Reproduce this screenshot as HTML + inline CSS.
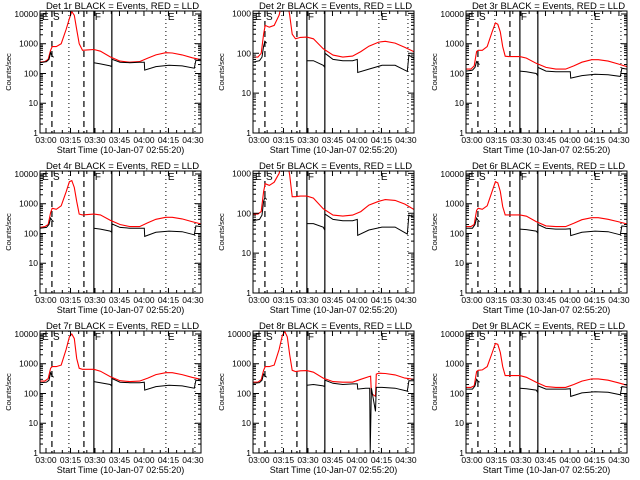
<!DOCTYPE html>
<html><head><meta charset="utf-8"><style>
html,body{margin:0;padding:0;background:#fff;}
svg{display:block;font-family:"Liberation Sans",sans-serif;}
</style></head><body>
<svg id="chart" width="640" height="480" viewBox="0 0 640 480" xmlns="http://www.w3.org/2000/svg"></svg>
<script>
const redT = [1,4,6,7.5,8.5,11,14,17,19,20.5,22,23.5,25,27,30,34,38,44,50,56,62,67,72,78,82,88,94,99.5];
const blackT = [1,5,6.5,7.5,8.3,9.3,34,38,44,44.9,45.1,50,56,62,64.9,65.1,72,80,88,95.5,96.5,99.5];
const red8T = [1,4,6,7.5,8.5,11,14,17,19,20.5,22,23.5,25,27,30,34,38,44,50,56,62,67,72,73,73.5,76,76.5,78,82,88,94,99.5];
const black8T = [1,5,6.5,7.5,8.3,9.3,34,38,44,44.9,45.1,50,56,62,64.9,65.1,70,72.5,72.8,73.5,76,76.5,80,88,95.5,96.5,99.5];
const blackBreak = 6;
const xTickLabels = ["03:00","03:15","03:30","03:45","04:00","04:15","04:30"];
const xTickTimes = [4.67,19.67,34.67,49.67,64.67,79.67,94.67];
const dashedTimes = [8.3,27.9];
const dottedTimes = [18.7,78.1,95.9];
const solidTimes = [34,45];
const panelNames = ["1r","2r","3r","4r","5r","6r","7r","8r","9r"];
const yMaxLog = [4.1,3.06,4.1,4.1,3.06,4.1,4.1,4.1,4.1];
const red1 = [240,250,300,600,800,800,1000,3000,7000,12000,9000,3000,1000,600,620,640,560,360,260,240,250,330,420,500,490,420,340,290];
const black1 = [230,250,300,500,400,350,230,210,180,170,300,240,230,240,240,130,170,190,180,150,280,270];
const red2 = [80,80,100,300,500,450,500,900,2000,3000,2000,900,300,230,250,255,230,130,90,80,85,110,150,190,200,180,140,110];
const black2 = [60,65,80,150,200,180,65,65,50,45,100,70,65,65,70,33,40,50,50,35,90,75];
const red3 = [140,140,180,550,600,600,800,2500,5000,4500,2500,800,380,370,370,370,330,220,160,140,140,180,240,290,290,260,210,170];
const black3 = [120,130,160,250,220,200,120,115,100,85,160,120,115,115,115,70,85,95,90,80,150,140];
const red4 = [160,170,200,500,700,650,850,2500,5500,6000,3500,1200,450,420,430,450,420,280,200,170,170,230,300,350,350,310,250,210];
const black4 = [150,160,200,330,280,250,150,140,120,110,210,160,150,150,150,80,110,120,115,90,180,170];
const red5 = [95,95,110,350,550,500,600,1000,2000,3000,2000,900,260,260,270,270,240,130,90,85,90,110,160,200,220,210,170,125];
const black5 = [65,70,90,200,250,220,55,55,45,38,95,70,65,65,70,28,38,45,45,30,90,80];
const red6 = [170,170,200,600,700,650,850,2600,5500,5000,2600,800,420,420,420,420,380,250,180,170,170,220,290,340,340,300,250,210];
const black6 = [150,150,200,330,280,250,140,135,120,105,200,150,140,140,145,85,110,120,115,90,180,170];
const red7 = [260,260,320,700,800,800,900,3000,8000,10000,7000,1500,700,650,650,650,560,370,270,250,260,330,430,500,500,430,350,300];
const black7 = [230,240,280,500,400,350,250,230,200,180,320,240,230,230,240,130,170,190,180,150,280,270];
const red8 = [240,240,290,600,800,800,900,3000,9000,12000,8000,2000,600,550,580,590,520,330,250,240,240,300,370,380,100,80,450,480,470,420,330,300];
const black8 = [220,230,280,450,400,350,190,200,180,170,280,220,200,210,210,140,150,150,1,150,25,160,160,150,120,270,270];
const red9 = [160,160,180,550,600,620,800,2300,4800,4500,2400,800,400,400,400,400,350,240,170,160,160,200,260,310,310,280,230,190];
const black9 = [140,140,180,300,260,240,150,145,130,110,180,140,140,140,145,80,105,115,110,90,170,160];

const reds = [red1,red2,red3,red4,red5,red6,red7,red8,red9];
const blacks = [black1,black2,black3,black4,black5,black6,black7,black8,black9];

const NS = "http://www.w3.org/2000/svg";
const svg = document.getElementById("chart");
const L = 40, R = 201, T = 11, B = 133, TMIN = 1, TMAX = 99.6;

function mk(tag, attrs, parent) {
  const e = document.createElementNS(NS, tag);
  for (const k in attrs) e.setAttribute(k, attrs[k]);
  parent.appendChild(e);
  return e;
}

for (let p = 0; p < 9; p++) {
  const col = p % 3, row = Math.floor(p / 3);
  const g = mk("g", {transform: `translate(${col*213},${row*160})`}, svg);
  
  
  const ymax = yMaxLog[p];
  const xs = t => L + (t - TMIN) / (TMAX - TMIN) * (R - L);
  const ys = v => B - (Math.log10(Math.max(v, 0.5))) / ymax * (B - T);

  const clip = mk("clipPath", {id: "c" + p}, g);
  mk("rect", {x: L, y: T, width: R - L, height: B - T}, clip);

  const vg = mk("g", {}, g);
  
  
  dashedTimes.forEach(t => { const l = mk("line", {x1: xs(t), x2: xs(t), y1: T, y2: B, stroke: "#000", "stroke-width": 1.2, "stroke-dasharray": "6,4"}, vg);   });
  dottedTimes.forEach(t => { const l = mk("line", {x1: xs(t), x2: xs(t), y1: T, y2: B, stroke: "#000", "stroke-width": 1, "stroke-dasharray": "1,3"}, vg);   });
  solidTimes.forEach(t => { const l = mk("line", {x1: xs(t), x2: xs(t), y1: T, y2: B, stroke: "#000", "stroke-width": 1.2}, vg);   });

  [["E",L+2],["S",L+13],["F",xs(34)+1],["E",xs(78.1)+2]].forEach(([s,x]) => {
    const tx = mk("text", {x: x, y: T + 9, "font-size": 10, fill: "#000"}, g);
    tx.textContent = s;
    
    
  });

  const rt = p === 7 ? red8T : redT;
  const bt = p === 7 ? black8T : blackT;
  const rv = reds[p], bv = blacks[p];
  const rPath = mk("polyline", {points: rt.map((t,i) => xs(t).toFixed(1) + "," + ys(rv[i]).toFixed(1)).join(" "), fill: "none", stroke: "#f00", "stroke-width": 1.1, "clip-path": `url(#c${p})`}, g);
  
  
  const seg1 = bt.slice(0, blackBreak).map((t,i) => xs(t).toFixed(1) + "," + ys(bv[i]).toFixed(1)).join(" ");
  const seg2 = bt.slice(blackBreak).map((t,i) => xs(t).toFixed(1) + "," + ys(bv[i + blackBreak]).toFixed(1)).join(" ");
  [seg1, seg2].forEach(pts => {
    const b = mk("polyline", {points: pts, fill: "none", stroke: "#000", "stroke-width": 1, "clip-path": `url(#c${p})`}, g);
    
    
  });

  const box = mk("rect", {x: L, y: T, width: R - L, height: B - T, fill: "none", stroke: "#000", "stroke-width": 1}, g);
  
  

  const decades = Math.floor(ymax);
  for (let d = 0; d <= decades; d++) {
    const y = ys(Math.pow(10, d));
    mk("line", {x1: L, x2: L + 6, y1: y, y2: y, stroke: "#000"}, g);
    mk("line", {x1: R, x2: R - 6, y1: y, y2: y, stroke: "#000"}, g);
    const lb = mk("text", {x: L - 2, y: y + 3, "font-size": 8.5, "text-anchor": "end", fill: "#000"}, g);
    lb.textContent = String(Math.pow(10, d));
    
    
    for (let m = 2; m <= 9; m++) {
      const v = m * Math.pow(10, d);
      if (Math.log10(v) > ymax) break;
      const yy = ys(v);
      mk("line", {x1: L, x2: L + 3, y1: yy, y2: yy, stroke: "#000"}, g);
      mk("line", {x1: R, x2: R - 3, y1: yy, y2: yy, stroke: "#000"}, g);
    }
  }
  for (let t = 4.67 - 15; t <= TMAX; t += 5) {
    if (t < TMIN) continue;
    const x = xs(t);
    const major = Math.abs(((t - 4.67) / 15) - Math.round((t - 4.67) / 15)) < 0.01;
    const len = major ? 5 : 3;
    mk("line", {x1: x, x2: x, y1: B, y2: B - len, stroke: "#000"}, g);
    mk("line", {x1: x, x2: x, y1: T, y2: T + len, stroke: "#000"}, g);
  }
  xTickTimes.forEach((t, i) => {
    const lb = mk("text", {x: xs(t), y: B + 10, "font-size": 8.5, "text-anchor": "middle", fill: "#000"}, g);
    lb.textContent = xTickLabels[i];
    
    
  });
  const xt = mk("text", {x: (L + R) / 2, y: B + 20, "font-size": 9, "text-anchor": "middle", fill: "#000"}, g);
  xt.textContent = "Start Time (10-Jan-07 02:55:20)";
  
  
  const yt = mk("text", {x: 0, y: 0, "font-size": 7.5, "text-anchor": "middle", fill: "#000", transform: `translate(11,${(T+B)/2}) rotate(-90)`}, g);
  yt.textContent = "Counts/sec";
  
  
  const tt = mk("text", {x: (L + R) / 2 + 2, y: T - 2, "font-size": 9.5, "text-anchor": "middle", fill: "#000"}, g);
  tt.textContent = "Det " + panelNames[p] + " BLACK = Events, RED = LLD";
  
  
}
</script>
</body></html>
